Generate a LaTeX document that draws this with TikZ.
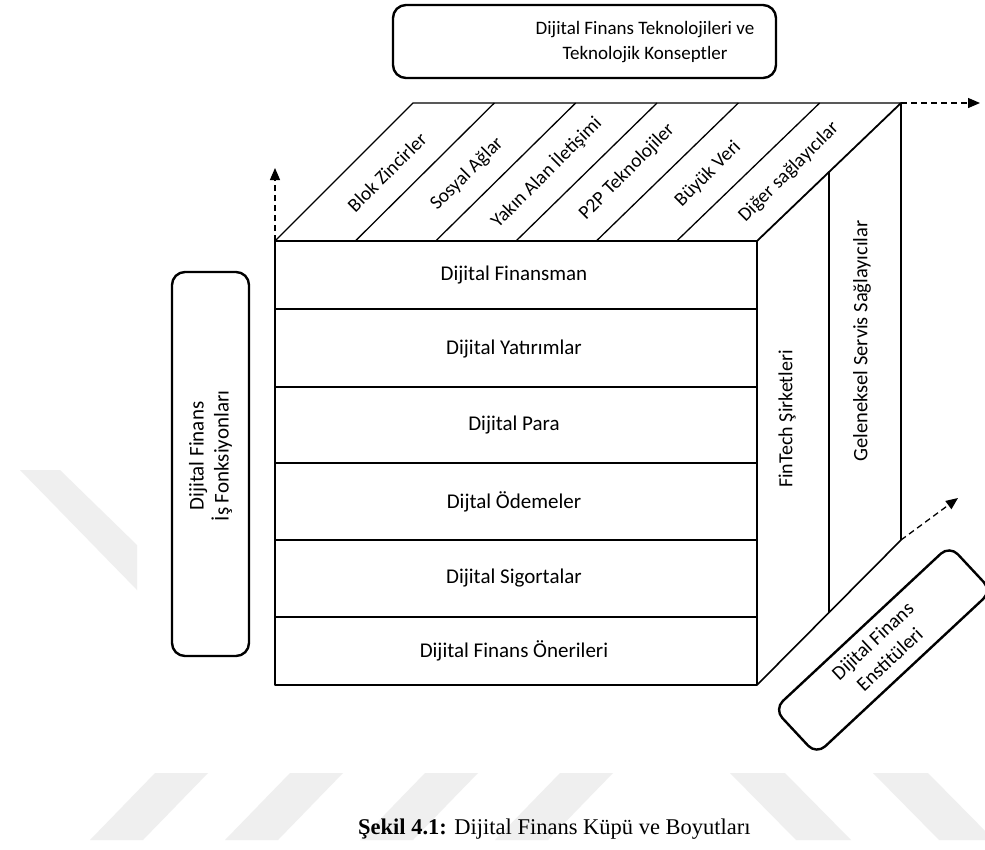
\documentclass[tikz,border=0pt]{standalone}
\usepackage{fontspec}
\setmainfont{Carlito}
\newfontfamily\capfont{Liberation Serif}
\usetikzlibrary{arrows.meta,calc}
\definecolor{wmgray}{RGB}{239,239,239}

\begin{document}
\begin{tikzpicture}[x=1pt,y=-1pt,
  cube/.style={line width=1.3pt, line join=round},
  frame/.style={draw, line width=2.4pt, rounded corners=13pt, inner sep=0pt},
  lbl/.style={font=\fontsize{21}{25}\selectfont, inner sep=0pt, align=center},
  toplbl/.style={font=\fontsize{19.5}{23}\selectfont, rotate=45, inner sep=0pt},
  sidelbl/.style={font=\fontsize{20}{25}\selectfont, rotate=90, inner sep=0pt},
  dasharrow/.style={line width=1.3pt, dash pattern=on 6pt off 4pt,
    -{Triangle[length=12pt,width=10pt]}},
  wm/.style={fill=wmgray, draw=none}
]
\useasboundingbox (0,0) rectangle (985,849);
\fill[white] (0,0) rectangle (985,849);

% faint background stripes
\fill[wm] (20,470) -- (60,470) -- (137,545) -- (137,590) -- cycle;
\foreach \k in {0,1,2,3}{
  \fill[wm] ({155+135*\k},773) -- ({208+135*\k},773) -- ({143+135*\k},840) -- ({90+135*\k},840) -- cycle;
}
\fill[wm] (730,773) -- (785,773) -- (851,840) -- (796,840) -- cycle;
\fill[wm] (873,773) -- (928,773) -- (994,840) -- (939,840) -- cycle;

% cube corners
\coordinate (FTL) at (275,241);
\coordinate (FTR) at (757,241);
\coordinate (FBL) at (275,685);
\coordinate (FBR) at (757,685);
\coordinate (BTL) at (413,103);
\coordinate (BTR) at (901,103);
\coordinate (BBR) at (901,540);

% front face with its six rows
\draw[cube] (FTL) rectangle (FBR);
\foreach \y in {309,387,463,540,617}{
  \draw[cube] (275,\y) -- (757,\y);
}

% top face and its slices
\draw[cube] (FTL) -- (BTL) -- (BTR);
\draw[line width=1.8pt] (FTR) -- (BTR);
\foreach \k in {1,...,5}{
  \draw[cube] ({275+80.333*\k},241) -- ({413+81.333*\k},103);
}

% right face
\draw[cube] (BTR) -- (BBR);
\draw[line width=1.6pt] (FBR) -- (BBR);
\draw[cube] ($(FTR)!0.5!(BTR)$) -- ($(FBR)!0.5!(BBR)$);

% front row labels
\node[lbl] (r1) at (514,275) {Dijital Finansman};
\node[lbl] (r2) at (514,349) {Dijital Yatırımlar};
\node[lbl] (r3) at (514,425) {Dijital Para};
\node[lbl] (r4) at (514,502) {Dijtal Ödemeler};
\node[lbl] (r5) at (514,578) {Dijital Sigortalar};
\node[lbl] (r6) at (514,651) {Dijital Finans Önerileri};

% top slice labels
\node[toplbl] (t1) at (387,172) {Blok Zincirler};
\node[toplbl] (t2) at (467,174) {Sosyal Ağlar};
\node[toplbl] (t3) at (546,172) {Yakın Alan İletişimi};
\node[toplbl] (t4) at (627,172) {P2P Teknolojiler};
\node[toplbl] (t5) at (708,174) {Büyük Veri};
\node[toplbl] (t6) at (789,172) {Diğer sağlayıcılar};

% right face labels
\node[sidelbl] (s1) at (787,419) {FinTech Şirketleri};
\node[sidelbl, font=\fontsize{20.5}{25}\selectfont] (s2) at (862,341) {Geleneksel Servis Sağlayıcılar};

% dimension boxes
\node[frame, minimum width=383pt, minimum height=73pt] (topbox) at (584.5,41.5) {};
\node[lbl, font=\fontsize{19}{25}\selectfont] (toptext) at (645,42)
  {Dijital Finans Teknolojileri ve\\Teknolojik Konseptler};

\node[frame, minimum width=77pt, minimum height=384pt] (leftbox) at (210.5,464) {};
\node[lbl, rotate=90] (lefttext) at (210.5,456) {Dijital Finans\\İş Fonksiyonları};

\node[frame, rounded corners=12pt, rotate=43, minimum width=240pt, minimum height=62pt] (instbox) at (883,650) {};
\node[lbl, font=\fontsize{20}{25}\selectfont, rotate=43] (insttext) at (881,650) {Dijital Finans\\Enstitüleri};

% axis arrows
\coordinate (upTip) at (275,168);
\coordinate (rightTip) at (980,103);
\coordinate (diagTip) at (958,498);
\draw[dasharrow] (FTL) -- (upTip);
\draw[dasharrow] (BTR) -- (rightTip);
\draw[dasharrow] (BBR) -- (diagTip);

% caption
\node[anchor=base west, inner sep=0pt, font=\capfont\fontsize{22.5}{27}\selectfont] (caption) at (358,834)
  {\textbf{Şekil 4.1:} Dijital Finans Küpü ve Boyutları};
\end{tikzpicture}
\end{document}
